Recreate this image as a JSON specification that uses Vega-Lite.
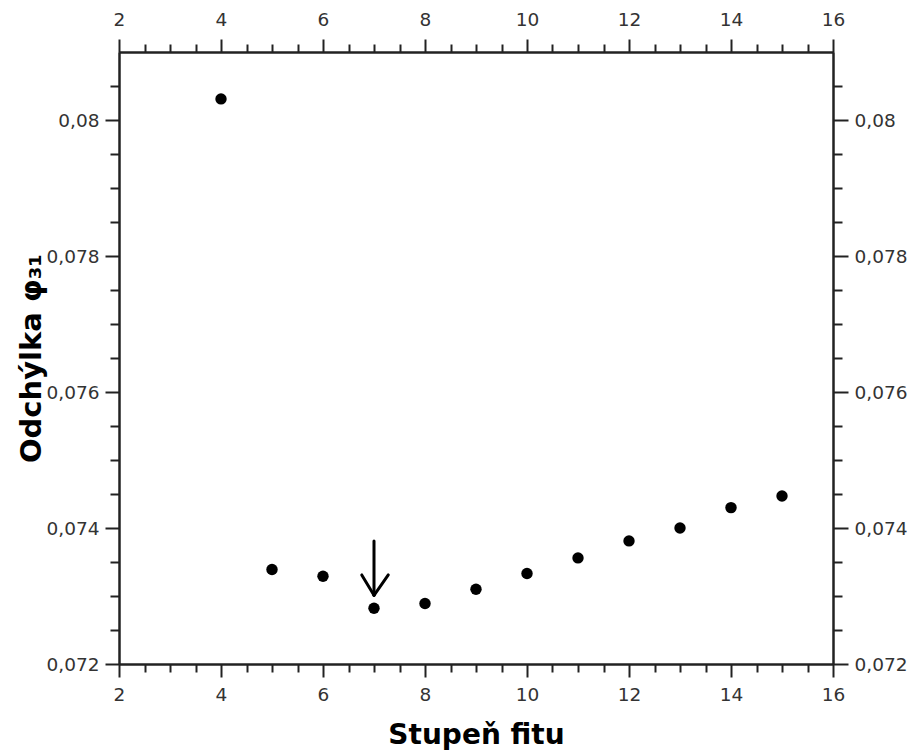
{
  "$schema": "https://vega.github.io/schema/vega-lite/v6.json",
  "autosize": "none",
  "width": 714,
  "height": 612,
  "padding": {"left": 119, "top": 52, "right": 79, "bottom": 91},
  "background": "white",
  "config": {
    "view": {"stroke": null},
    "axis": {
      "grid": false,
      "domainColor": "#222222",
      "domainWidth": 2,
      "tickColor": "#222222",
      "tickWidth": 2,
      "labelFont": "DejaVu Sans",
      "labelFontSize": 18.5,
      "labelColor": "#333333",
      "labelOverlap": false,
      "labelFlush": false,
      "titleFont": "DejaVu Sans",
      "titleFontWeight": "bold",
      "titleFontSize": 28,
      "titleColor": "#000000"
    }
  },
  "datasets": {
    "fit": [
      {"stupen": 4, "odchylka": 0.08031},
      {"stupen": 5, "odchylka": 0.07339},
      {"stupen": 6, "odchylka": 0.07329},
      {"stupen": 7, "odchylka": 0.07282},
      {"stupen": 8, "odchylka": 0.07289},
      {"stupen": 9, "odchylka": 0.07310},
      {"stupen": 10, "odchylka": 0.07333},
      {"stupen": 11, "odchylka": 0.07356},
      {"stupen": 12, "odchylka": 0.07381},
      {"stupen": 13, "odchylka": 0.07400},
      {"stupen": 14, "odchylka": 0.07430},
      {"stupen": 15, "odchylka": 0.07447}
    ],
    "arrow": [
      {"x": 7, "y": 0.07381, "x2": 7, "y2": 0.07301},
      {"x": 6.76, "y": 0.07331, "x2": 7, "y2": 0.07301},
      {"x": 7.28, "y": 0.07331, "x2": 7, "y2": 0.07301}
    ]
  },
  "layer": [
    {
      "data": {"name": "fit"},
      "mark": {"type": "point", "filled": true, "color": "#000000", "opacity": 1, "size": 130},
      "encoding": {
        "x": {
          "field": "stupen", "type": "quantitative",
          "scale": {"domain": [2, 16], "nice": false, "zero": false},
          "axis": {
            "orient": "bottom",
            "values": [2, 4, 6, 8, 10, 12, 14, 16],
            "tickSize": 13,
            "labelPadding": 8,
            "title": "Stupeň fitu",
            "titlePadding": 18
          }
        },
        "y": {
          "field": "odchylka", "type": "quantitative",
          "scale": {"domain": [0.072, 0.081], "nice": false, "zero": false},
          "axis": {
            "orient": "left",
            "values": [0.072, 0.074, 0.076, 0.078, 0.08],
            "labelExpr": "replace(format(datum.value, '~g'), '.', ',')",
            "tickSize": 14,
            "labelPadding": 6,
            "title": "Odchýlka φ₃₁",
            "titleFontSize": 29,
            "titlePadding": 0
          }
        }
      }
    },
    {
      "data": {"name": "arrow"},
      "mark": {"type": "rule", "color": "#000000", "strokeWidth": 3, "strokeCap": "round"},
      "encoding": {
        "x": {
          "field": "x", "type": "quantitative",
          "axis": {
            "orient": "top",
            "values": [2, 4, 6, 8, 10, 12, 14, 16],
            "tickSize": 13,
            "labelPadding": 10,
            "title": null
          }
        },
        "x2": {"field": "x2"},
        "y": {
          "field": "y", "type": "quantitative",
          "axis": {
            "orient": "right",
            "values": [0.072, 0.074, 0.076, 0.078, 0.08],
            "labelExpr": "replace(format(datum.value, '~g'), '.', ',')",
            "tickSize": 15,
            "labelPadding": 6,
            "title": null
          }
        },
        "y2": {"field": "y2"}
      }
    },
    {
      "data": {"name": "fit"},
      "mark": {"type": "point", "opacity": 0},
      "encoding": {
        "x": {
          "field": "stupen", "type": "quantitative",
          "axis": {
            "orient": "bottom",
            "values": [2.5, 3, 3.5, 4.5, 5, 5.5, 6.5, 7, 7.5, 8.5, 9, 9.5, 10.5, 11, 11.5, 12.5, 13, 13.5, 14.5, 15, 15.5],
            "tickSize": 8,
            "labels": false,
            "title": null
          }
        },
        "y": {
          "field": "odchylka", "type": "quantitative",
          "axis": {
            "orient": "left",
            "values": [0.0725, 0.073, 0.0735, 0.0745, 0.075, 0.0755, 0.0765, 0.077, 0.0775, 0.0785, 0.079, 0.0795, 0.0805],
            "tickSize": 9,
            "labels": false,
            "title": null
          }
        }
      }
    },
    {
      "data": {"name": "fit"},
      "mark": {"type": "point", "opacity": 0},
      "encoding": {
        "x": {
          "field": "stupen", "type": "quantitative",
          "axis": {
            "orient": "top",
            "values": [2.5, 3, 3.5, 4.5, 5, 5.5, 6.5, 7, 7.5, 8.5, 9, 9.5, 10.5, 11, 11.5, 12.5, 13, 13.5, 14.5, 15, 15.5],
            "tickSize": 8,
            "labels": false,
            "title": null
          }
        },
        "y": {
          "field": "odchylka", "type": "quantitative",
          "axis": {
            "orient": "right",
            "values": [0.0725, 0.073, 0.0735, 0.0745, 0.075, 0.0755, 0.0765, 0.077, 0.0775, 0.0785, 0.079, 0.0795, 0.0805],
            "tickSize": 9,
            "labels": false,
            "title": null
          }
        }
      }
    }
  ],
  "resolve": {"axis": {"x": "independent", "y": "independent"}}
}
